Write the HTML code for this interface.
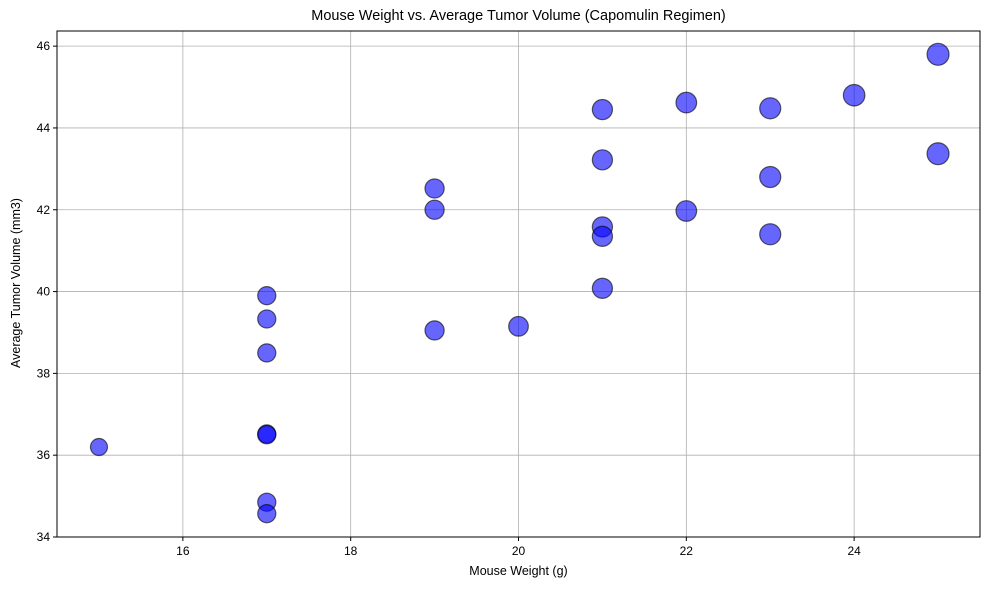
<!DOCTYPE html>
<html><head><meta charset="utf-8">
<style>
html,body{margin:0;padding:0;background:#fff;}
svg{display:block;font-family:"Liberation Sans","DejaVu Sans",sans-serif;}
</style></head>
<body>
<svg id="chart" width="990" height="590" viewBox="0 0 990 590"></svg>
<script>
const weights = [15,17,17,17,17,17,17,17,19,19,19,20,21,21,21,21,21,22,22,23,23,23,24,25,25];
const volumes = [36.2,39.9,39.33,38.5,36.52,36.5,34.85,34.57,42.52,42.0,39.05,39.15,44.45,43.22,41.58,41.35,40.08,44.62,41.97,44.48,42.8,41.4,44.8,45.8,43.37];
const xTicks = [16,18,20,22,24];
const yTicks = [34,36,38,40,42,44,46];

const L=57,R=980,T=31,B=537;
const xMin=14.5,xMax=25.5,yMin=34,yMax=46.37;
const sx=v=>L+(v-xMin)/(xMax-xMin)*(R-L);
const sy=v=>B-(v-yMin)/(yMax-yMin)*(B-T);
const NS="http://www.w3.org/2000/svg";
const svg=document.getElementById('chart');
function mk(tag,attrs,parent){const e=document.createElementNS(NS,tag);for(const k in attrs)e.setAttribute(k,attrs[k]);(parent||svg).appendChild(e);return e;}

const grid=mk('g',{});


xTicks.forEach(t=>{
  const l=mk('line',{x1:sx(t),x2:sx(t),y1:T,y2:B,stroke:'#b0b0b0','stroke-width':0.8},grid);
  
  
});
yTicks.forEach(t=>{
  const l=mk('line',{x1:L,x2:R,y1:sy(t),y2:sy(t),stroke:'#b0b0b0','stroke-width':0.8},grid);
  
  
});

const pts=mk('g',{});


weights.forEach((w,i)=>{
  const r=Math.sqrt(w*10)*100/72/2;
  const c=mk('circle',{cx:sx(w),cy:sy(volumes[i]),r:r,fill:'rgba(0,0,255,0.6)',stroke:'rgba(0,0,0,0.6)','stroke-width':1.2},pts);
  
  
});

const frame=mk('rect',{x:L,y:T,width:R-L,height:B-T,fill:'none',stroke:'#000','stroke-width':1});



const xa=mk('g',{});


xTicks.forEach(t=>{
  mk('line',{x1:sx(t),x2:sx(t),y1:B,y2:B+4,stroke:'#000'},xa);
  const tx=mk('text',{x:sx(t),y:B+18,'text-anchor':'middle','font-size':12},xa);
  tx.textContent=t;
  
  
});
const ya=mk('g',{});


yTicks.forEach(t=>{
  mk('line',{x1:L-4,x2:L,y1:sy(t),y2:sy(t),stroke:'#000'},ya);
  const tx=mk('text',{x:L-7,y:sy(t)+4,'text-anchor':'end','font-size':12},ya);
  tx.textContent=t;
  
  
});
</script>
<svg width="0" height="0"></svg>
<div style="position:absolute;left:0;top:0;width:990px;height:590px;pointer-events:none;font-family:'Liberation Sans','DejaVu Sans',sans-serif;">
  <div style="position:absolute;left:57px;width:923px;top:8px;text-align:center;font-size:14.5px;">Mouse Weight vs. Average Tumor Volume (Capomulin Regimen)</div>
  <div style="position:absolute;left:57px;width:923px;top:564px;text-align:center;font-size:12.5px;">Mouse Weight (g)</div>
  <div style="position:absolute;left:-84px;top:276px;width:200px;text-align:center;font-size:12.5px;transform:rotate(-90deg);">Average Tumor Volume (mm3)</div>
</div>
</body></html>
